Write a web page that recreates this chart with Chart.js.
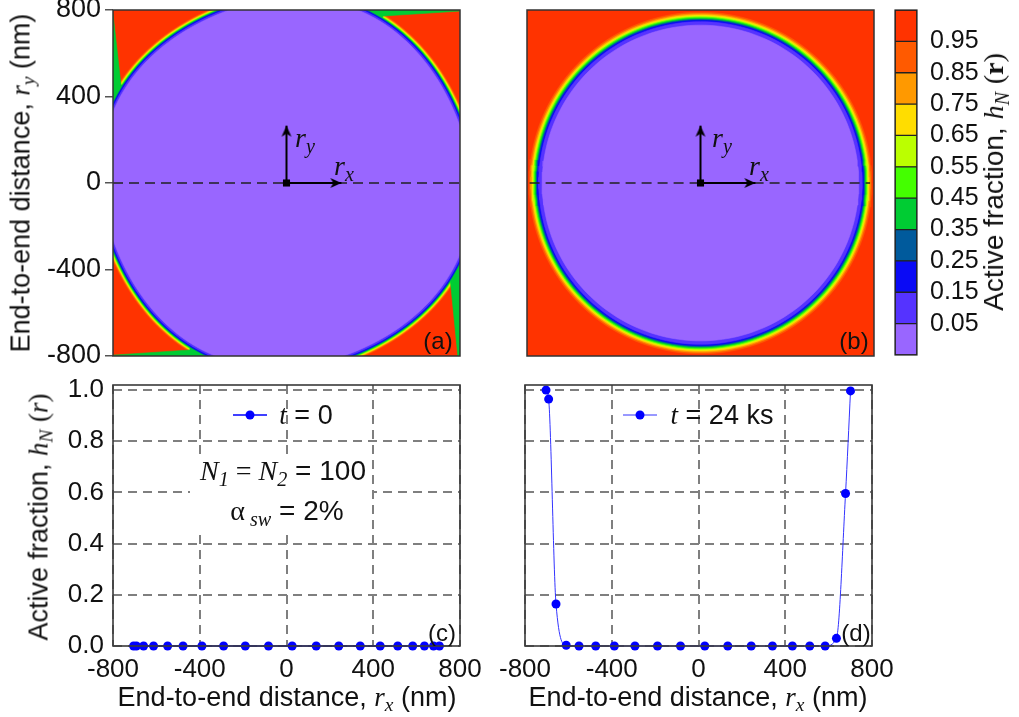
<!DOCTYPE html>
<html>
<head>
<meta charset="utf-8">
<script src="https://cdn.jsdelivr.net/npm/chart.js@4.4.0/dist/chart.umd.min.js"></script>
<style>
  body { margin: 0; background: #fff; }
  #fig { position: relative; width: 1019px; height: 717px; overflow: hidden;
         font-family: "Liberation Sans", Arial, sans-serif; color: #111; }
  #fig canvas { position: absolute; }
  .lbl { position: absolute; white-space: nowrap; line-height: 1; transform: translate(-50%, -50%); }
  .rot { transform: translate(-50%, -50%) rotate(-90deg); }
  .m { font-family: "Liberation Serif", "Times New Roman", serif; font-style: italic; }
  .s { font-family: "Liberation Serif", "Times New Roman", serif; }
  .sub { font-size: 0.72em; position: relative; top: 0.28em; }
  .note { position: absolute; left: 190px; top: 455px; width: 182px; height: 74px; background: #fff; }
</style>
</head>
<body>
<div id="fig">
  <canvas id="mapA"></canvas>
  <canvas id="mapB"></canvas>
  <canvas id="cbar"></canvas>
  <canvas id="profC"></canvas>
  <canvas id="profD"></canvas>

  <div class="lbl rot" style="left:21px;top:183px;font-size:27px">End-to-end distance, <span class="m">r</span><span class="m sub">y</span> (nm)</div>
  <div class="lbl rot" style="left:994px;top:182px;font-size:28px">Active fraction, <span class="m">h</span><span class="m sub">N</span> <span class="s">(<b>r</b>)</span></div>
  <div class="lbl rot" style="left:39px;top:517px;font-size:27px">Active fraction, <span class="m">h</span><span class="m sub">N</span> <span class="s">(<i>r</i>)</span></div>
  <div class="lbl" style="left:287px;top:697px;font-size:27px">End-to-end distance, <span class="m">r</span><span class="m sub">x</span> (nm)</div>
  <div class="lbl" style="left:698px;top:697px;font-size:27px">End-to-end distance, <span class="m">r</span><span class="m sub">x</span> (nm)</div>

  <div class="lbl" style="left:305px;top:138px;font-size:28px"><span class="m">r</span><span class="m sub">y</span></div>
  <div class="lbl" style="left:344px;top:166px;font-size:28px"><span class="m">r</span><span class="m sub">x</span></div>
  <div class="lbl" style="left:722px;top:138px;font-size:28px"><span class="m">r</span><span class="m sub">y</span></div>
  <div class="lbl" style="left:759px;top:166px;font-size:28px"><span class="m">r</span><span class="m sub">x</span></div>

  <div class="lbl" style="left:306px;top:415px;font-size:27px"><span class="m">t</span> = 0</div>
  <div class="lbl" style="left:722px;top:415px;font-size:27px"><span class="m">t</span> = 24 ks</div>
  <div class="note"></div>
  <div class="lbl" style="left:283px;top:471px;font-size:28px"><span class="m">N</span><span class="m sub">1</span><span class="s"> = </span><span class="m">N</span><span class="m sub">2</span> = 100</div>
  <div class="lbl" style="left:287px;top:511px;font-size:28px"><span class="s">α</span><span class="m sub"> sw</span> = 2%</div>

  <div class="lbl" style="left:438px;top:341px;font-size:24px">(a)</div>
  <div class="lbl" style="left:854px;top:341px;font-size:24px">(b)</div>
  <div class="lbl" style="left:442px;top:633px;font-size:24px">(c)</div>
  <div class="lbl" style="left:856px;top:633px;font-size:24px">(d)</div>
</div>
<script>
// ---- data ----
const mapTicks = [-800, -400, 0, 400, 800];
const distTicks = [-800, -400, 0, 400, 800];
const fracTicks = [0, 0.2, 0.4, 0.6, 0.8, 1.0];

// contour levels of h_N and the colour of the band just below each level (last = above 0.95)
const levels = [0.05, 0.15, 0.25, 0.35, 0.45, 0.55, 0.65, 0.75, 0.85, 0.95];
const bandColors = ['#9966ff', '#5533ff', '#0a0af5', '#005a9c', '#00cc33', '#44ff00',
                    '#bbff00', '#ffdd00', '#ff9900', '#ff5a00', '#ff3300'];

// contour radius (nm) of each level, t = 0 and t = 24 ks
const radiiT0 = [853, 861, 866, 869, 872, 875, 878, 881, 884, 888];
const radiiT24 = [730, 746, 752, 757, 762, 767, 772, 777, 783, 790];
// t = 0 contours are slightly twisted with fourfold symmetry
const twistT0 = { amp: 12, phase: 67.6 };

// corner pockets (h ~ 0.4) of the t = 0 map
const pocketX = [[-800, -763, -712, -800], [316, 800, 800, 445, 422],
                 [-800, -800, -445, -445, -376, -320], [800, 800, 790, 755, 726]];
const pocketY = [[781, 453, 457, 328], [800, 800, 795, 772, 716],
                 [-800, -796, -772, -728, -745, -800], [-330, -800, -800, -448, -400]];

// square map domain
const boxX = [-800, 800, 800, -800, -800];
const boxY = [-800, -800, 800, 800, -800];

// dashed r_y = 0 guide and the r_x / r_y arrows (nm)
const guideA = [-800, 800];
const guideB = [-788, 782];
const arrowRy = 265;
const arrowRx = 253;

// h_N along r_x
const rx0 = [-705, -692, -659, -613, -548, -477, -390, -290, -190, -83,
             26, 137, 241, 340, 432, 513, 582, 636, 678, 705];
const h0 = [0, 0, 0, 0, 0, 0, 0, 0, 0, 0, 0, 0, 0, 0, 0, 0, 0, 0, 0, 0];
const rx24 = [-703, -691, -657, -610, -551, -474, -388, -293, -189, -83,
              29, 135, 243, 341, 433, 513, 584, 636, 678, 701];
const h24 = [1.0, 0.965, 0.164, 0.003, 0, 0, 0, 0, 0, 0,
             0, 0, 0, 0, 0, 0, 0, 0.03, 0.596, 0.997];

// ---- setup ----
Chart.defaults.font.family = '"Liberation Sans", Arial, sans-serif';
Chart.defaults.color = '#111';

function place(id, left, top, w, h) {
  const c = document.getElementById(id);
  c.width = w; c.height = h;
  c.style.left = left + 'px'; c.style.top = top + 'px';
  c.style.width = w + 'px'; c.style.height = h + 'px';
  return c;
}

// fixed axis thickness, no automatic label padding
function fixAxis(size) {
  return scale => {
    if (scale.isHorizontal()) scale.height = size; else scale.width = size;
    scale.paddingLeft = scale.paddingRight = scale.paddingTop = scale.paddingBottom = 0;
  };
}
const setTicks = vals => scale => { scale.ticks = vals.map(v => ({ value: v })); };

const frame = {
  id: 'frame',
  afterDatasetsDraw(chart, args, opts) {
    const { ctx, chartArea: a } = chart;
    ctx.save();
    ctx.strokeStyle = opts.color;
    ctx.lineWidth = opts.width;
    ctx.strokeRect(a.left, a.top, a.width, a.height);
    ctx.restore();
  }
};

// legend entry: line with a marker, taken from the first dataset
const sample = {
  id: 'sample',
  afterDatasetsDraw(chart, args, opts) {
    const ds = chart.data.datasets[0];
    const { ctx, chartArea: a } = chart;
    const x0 = a.left + opts.dx, y0 = a.top + opts.dy;
    ctx.save();
    ctx.strokeStyle = ds.borderColor;
    ctx.lineWidth = ds.borderWidth;
    ctx.beginPath(); ctx.moveTo(x0, y0); ctx.lineTo(x0 + 34, y0); ctx.stroke();
    ctx.fillStyle = ds.pointBackgroundColor;
    ctx.beginPath(); ctx.arc(x0 + 17, y0, ds.pointRadius, 0, 2 * Math.PI); ctx.fill();
    ctx.restore();
  }
};

// arrow head marker, tip at the centre of the image
const head = document.createElement('canvas');
head.width = 16; head.height = 30;
const hg = head.getContext('2d');
hg.fillStyle = '#000';
hg.beginPath(); hg.moveTo(8, 15); hg.lineTo(3, 26); hg.lineTo(8, 23); hg.lineTo(13, 26); hg.closePath(); hg.fill();

function ring(r, twist) {
  const pts = [];
  for (let k = 0; k <= 360; k += 2) {
    const a = k * Math.PI / 180;
    const rr = twist ? r + twist.amp * Math.cos(4 * (a - twist.phase * Math.PI / 180)) : r;
    pts.push({ x: rr * Math.cos(a), y: rr * Math.sin(a) });
  }
  return pts;
}

const patch = (pts, color) => ({
  data: pts, fill: 'shape', backgroundColor: color, borderColor: color,
  borderWidth: 0.6, pointRadius: 0, clip: 0
});

function mapDatasets(radii, twist, pockets, guide) {
  const layers = [patch(boxX.map((x, i) => ({ x, y: boxY[i] })), bandColors[10])];
  for (let i = levels.length - 1; i >= 0; i--) {
    if (i === 4 && pockets) {
      pockets.x.forEach((xs, j) => layers.push(patch(xs.map((x, k) => ({ x, y: pockets.y[j][k] })), bandColors[4])));
    }
    layers.push(patch(ring(radii[i], twist), bandColors[i]));
  }
  layers.push({ data: guide.map(x => ({ x, y: 0 })), borderColor: '#222', borderWidth: 1.5,
                borderDash: [10, 6], pointRadius: 0, fill: false });
  layers.push({ data: [{ x: 0, y: 0 }, { x: 0, y: arrowRy }], borderColor: '#000', borderWidth: 2,
                pointRadius: [0, 6], pointStyle: head, rotation: 0, fill: false });
  layers.push({ data: [{ x: 0, y: 0 }, { x: arrowRx, y: 0 }], borderColor: '#000', borderWidth: 2,
                pointRadius: [0, 6], pointStyle: head, rotation: 90, fill: false });
  layers.push({ data: [{ x: 0, y: 0 }], showLine: false, pointStyle: 'rect', pointRadius: 5,
                pointBackgroundColor: '#000', pointBorderWidth: 0 });
  return layers.reverse(); // first dataset is painted last
}

function mapOptions(showY, padding) {
  return {
    responsive: false, animation: false, events: [],
    layout: { padding },
    plugins: { legend: { display: false }, tooltip: { enabled: false }, frame: { color: '#333', width: 1.5 } },
    elements: { line: { tension: 0 } },
    scales: {
      x: { type: 'linear', min: -800, max: 800, display: false },
      y: {
        type: 'linear', min: -800, max: 800, display: showY,
        afterBuildTicks: setTicks(mapTicks), afterFit: fixAxis(showY ? 113 : 0),
        ticks: { font: { size: 27 }, padding: 4, callback: v => String(v) },
        grid: { drawOnChartArea: false, drawTicks: true, tickLength: 8, color: '#555', lineWidth: 1.5 },
        border: { display: false }
      }
    }
  };
}

new Chart(place('mapA', 0, -10, 470, 380), {
  type: 'line',
  data: { datasets: mapDatasets(radiiT0, twistT0, { x: pocketX, y: pocketY }, guideA) },
  options: mapOptions(true, { top: 20, right: 10, bottom: 14, left: 0 }),
  plugins: [frame]
});

new Chart(place('mapB', 517, -10, 367, 380), {
  type: 'line',
  data: { datasets: mapDatasets(radiiT24, null, null, guideB) },
  options: mapOptions(false, { top: 20, right: 10, bottom: 14, left: 10 }),
  plugins: [frame]
});

// colour bar: one floating bar per band
const bandLo = bandColors.map((c, i) => (i === 0 ? -0.05 : levels[i - 1]));
const bandHi = bandColors.map((c, i) => (i === levels.length ? 1.05 : levels[i]));
new Chart(place('cbar', 885, -10, 100, 380), {
  type: 'bar',
  data: {
    labels: [''],
    datasets: bandColors.map((c, i) => ({
      data: [[bandLo[i], bandHi[i]]], backgroundColor: c, borderColor: '#222', borderWidth: 1,
      borderSkipped: false, barPercentage: 1, categoryPercentage: 1, grouped: false
    }))
  },
  options: {
    responsive: false, animation: false, events: [],
    layout: { padding: { top: 20, right: 0, bottom: 15, left: 10 } },
    plugins: { legend: { display: false }, tooltip: { enabled: false }, frame: { color: '#222', width: 1.2 } },
    scales: {
      x: { display: false },
      y: {
        position: 'right', min: -0.05, max: 1.05,
        afterBuildTicks: setTicks(levels), afterFit: fixAxis(68),
        ticks: { font: { size: 25 }, padding: 5, callback: v => v.toFixed(2) },
        grid: { display: false }, border: { display: false }
      }
    }
  },
  plugins: [frame]
});

function profileOptions(showYLabels, yWidth, padding, sampleDx) {
  return {
    responsive: false, animation: false, events: [],
    layout: { padding },
    plugins: {
      legend: { display: false }, tooltip: { enabled: false },
      frame: { color: '#3a3a3a', width: 1.6 },
      sample: { dx: sampleDx, dy: 30 }
    },
    scales: {
      x: {
        type: 'linear', min: -800, max: 800,
        afterBuildTicks: setTicks(distTicks), afterFit: fixAxis(40),
        ticks: { font: { size: 26 }, padding: 8, callback: v => String(v) },
        grid: { color: '#7f7f7f', lineWidth: 2, drawTicks: false },
        border: { display: false, dash: [9, 6] }
      },
      y: {
        type: 'linear', min: 0, max: 1.02,
        afterBuildTicks: setTicks(fracTicks), afterFit: fixAxis(yWidth),
        ticks: { display: showYLabels, font: { size: 26 }, padding: 9, callback: v => v.toFixed(1) },
        grid: { color: '#7f7f7f', lineWidth: 2, drawTicks: false },
        border: { display: false, dash: [9, 6] }
      }
    }
  };
}

new Chart(place('profC', 0, 370, 500, 347), {
  type: 'line',
  data: {
    datasets: [{
      data: rx0.map((x, i) => ({ x, y: h0[i] })),
      borderColor: '#0000ff', borderWidth: 1.5, pointRadius: 4.5,
      pointBackgroundColor: '#0000ff', pointBorderWidth: 0, clip: false
    }]
  },
  options: profileOptions(true, 113, { top: 15, right: 40, bottom: 31, left: 0 }, 120),
  plugins: [frame, sample]
});

new Chart(place('profD', 490, 370, 420, 347), {
  type: 'line',
  data: {
    datasets: [{
      data: rx24.map((x, i) => ({ x, y: h24[i] })),
      borderColor: '#3333ff', borderWidth: 1, pointRadius: 4.5, cubicInterpolationMode: 'monotone',
      pointBackgroundColor: '#0000ff', pointBorderWidth: 0, clip: false
    }]
  },
  options: profileOptions(false, 0, { top: 15, right: 38, bottom: 31, left: 35 }, 98),
  plugins: [frame, sample]
});
</script>
</body>
</html>
